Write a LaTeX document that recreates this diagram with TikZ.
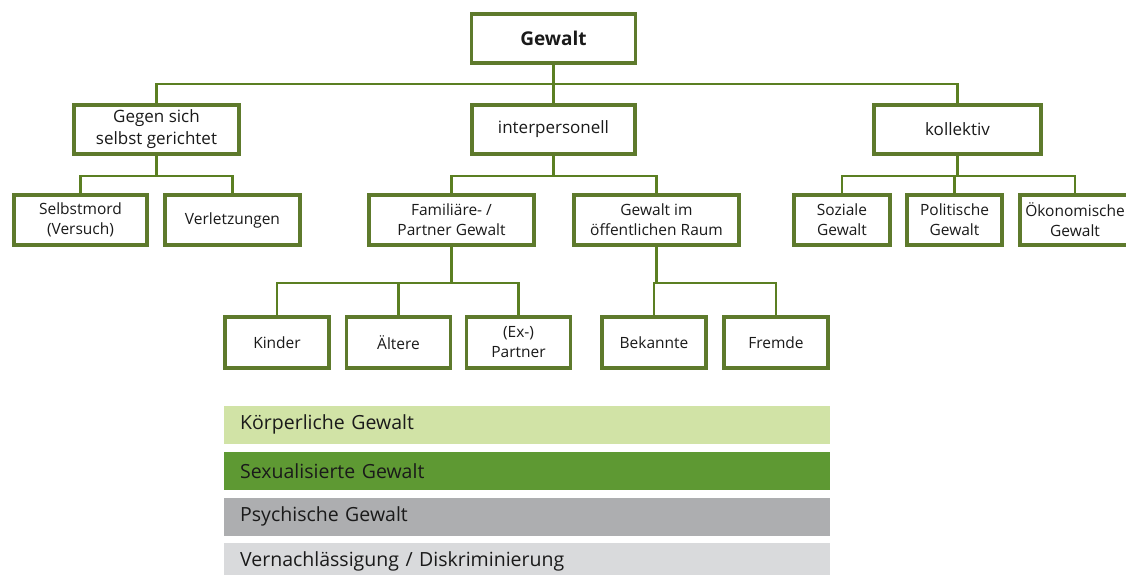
\documentclass[tikz,border=0pt]{standalone}
\usepackage{fontspec}
\setmainfont{Open Sans}
\usetikzlibrary{positioning, calc}
\definecolor{boxgreen}{HTML}{5E7A2C}
\definecolor{linegreen}{HTML}{5B7F22}
\definecolor{lightgreen}{HTML}{D1E3A6}
\definecolor{midgreen}{HTML}{5E9933}
\definecolor{midgray}{HTML}{ADAEB0}
\definecolor{lightgray}{HTML}{D9DADC}
\definecolor{textdark}{HTML}{1A1A1A}

\begin{document}
\begin{tikzpicture}[x=1pt, y=-1pt,
  box/.style={draw=boxgreen, line width=3.5pt, fill=white, align=center,
    text=textdark, inner sep=2pt},
  topbox/.style={box, minimum width=164pt, minimum height=49pt, font=\fontsize{19}{22}\selectfont\bfseries},
  mainbox/.style={box, minimum height=49pt, font=\fontsize{17}{22}\selectfont},
  subbox/.style={box, minimum height=50pt, font=\fontsize{15.5}{20}\selectfont},
  leafbox/.style={box, minimum width=104pt, minimum height=51pt, font=\fontsize{15.5}{20}\selectfont},
  conn/.style={draw=linegreen, line width=2.5pt},
  legbar/.style={anchor=west, minimum width=606pt, minimum height=38pt, inner sep=0pt,
    text=textdark, font=\fontsize{19.5}{22}\selectfont, text width=590pt, align=left}]

% Background
\clip (0,0) rectangle (1126,575);
\fill[white] (0,0) rectangle (1126,575);

%%% Boxes %%%
\node[topbox] (gewalt) at (553.5,38.5) {Gewalt};

\node[mainbox, minimum width=165pt] (selbst) at (156.5,129.5) {Gegen sich\\selbst gerichtet};
\node[mainbox, minimum width=163pt] (inter) at (553.5,129.5) {interpersonell};
\node[mainbox, minimum width=167pt] (koll) at (957.5,129.5) {kollektiv};

\node[subbox, minimum width=133pt] (suizid) at (80.5,220) {Selbstmord\\(Versuch)};
\node[subbox, minimum width=135pt] (verletz) at (232.5,220) {Verletzungen};
\node[subbox, minimum width=165pt] (famil) at (451.5,220) {Familiäre- /\\Partner Gewalt};
\node[subbox, minimum width=165pt] (oeff) at (656.5,220) {Gewalt im\\öffentlichen Raum};
\node[subbox, minimum width=96pt] (sozial) at (842,220) {Soziale\\Gewalt};
\node[subbox, minimum width=95pt] (polit) at (954.5,220) {Politische\\Gewalt};
\node[subbox, minimum width=110pt] (oekon) at (1075,220) {Ökonomische\\Gewalt};

\node[leafbox] (kinder) at (277,342.5) {Kinder};
\node[leafbox] (aeltere) at (398.5,342.5) {Ältere};
\node[leafbox] (partner) at (518.5,342.5) {(Ex-)\\Partner};
\node[leafbox] (bekannt) at (654,342.5) {Bekannte};
\node[leafbox] (fremd) at (776,342.5) {Fremde};

% Bus points
\coordinate (bus0) at (553.5,84);
\coordinate (bus1) at (156.5,176);
\coordinate (bus2) at (553.5,176);
\coordinate (bus3) at (957.5,176);
\coordinate (bus4) at (451.5,283);
\coordinate (bus5) at (656.5,283);

%%% Connectors %%%
\draw[conn] (gewalt.south) -- (bus0);
\draw[conn] (selbst.north) |- (bus0) -| (koll.north);
\draw[conn] (bus0) -- (inter.north);

\draw[conn] (selbst.south) -- (bus1);
\draw[conn] (suizid.north) |- (bus1) -| (verletz.north);
\draw[conn] (inter.south) -- (bus2);
\draw[conn] (famil.north) |- (bus2) -| (oeff.north);
\draw[conn] (koll.south) -- (bus3);
\draw[conn] (sozial.north) |- (bus3) -| (oekon.north);
\draw[conn] (polit.north) -- (polit.north |- bus3);

\draw[conn] (famil.south) -- (bus4);
\draw[conn] (kinder.north) |- (bus4) -| (partner.north);
\draw[conn] (aeltere.north) -- (aeltere.north |- bus4);
\draw[conn] (oeff.south) -- (bus5);
\draw[conn] (bekannt.north) |- (bus5) -| (fremd.north);

%%% Legend %%%
\node[legbar, fill=lightgreen] (koerper) at (224,424.5) {\hspace*{8pt}Körperliche Gewalt};
\node[legbar, fill=midgreen] (sexual) at (224,471) {\hspace*{8pt}Sexualisierte Gewalt};
\node[legbar, fill=midgray] (psych) at (224,516.5) {\hspace*{8pt}Psychische Gewalt};
\node[legbar, fill=lightgray] (vernach) at (224,561.5) {\hspace*{8pt}Vernachlässigung / Diskriminierung};

\end{tikzpicture}
\end{document}
